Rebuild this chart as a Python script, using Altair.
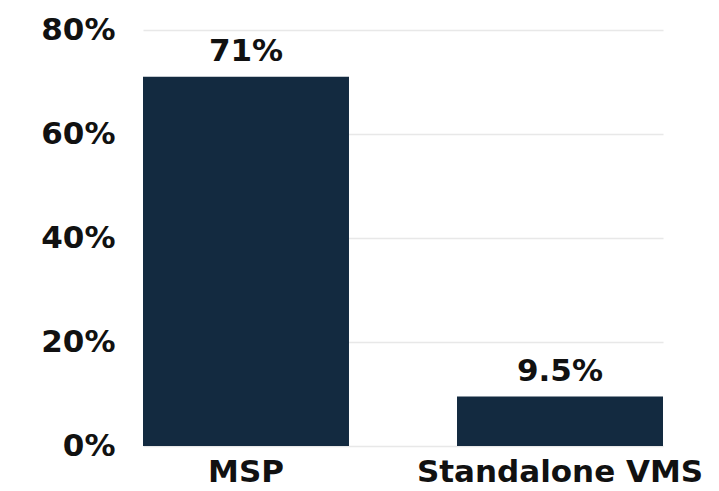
import altair as alt
import pandas as pd

categories = ["MSP", "Standalone VMS"]
values = [71, 9.5]
value_labels = ["71%", "9.5%"]

df = pd.DataFrame({"cat": categories, "val": values, "lab": value_labels})

FONT = "DejaVu Sans"
BAR = "#132a40"
FS = 31

base = alt.Chart(df).encode(
    x=alt.X("cat:N", sort=categories, title=None,
            scale=alt.Scale(paddingInner=0.344, paddingOuter=0),
            axis=alt.Axis(labelAngle=0, domain=False, ticks=False, labelPadding=11,
                          labelFont=FONT, labelFontSize=FS, labelFontWeight="bold",
                          labelColor="#111111", grid=False, labelLimit=0)),
)

bars = base.mark_bar(color=BAR).encode(
    y=alt.Y("val:Q", title=None,
            scale=alt.Scale(domain=[0, 80], nice=False),
            axis=alt.Axis(values=[0, 20, 40, 60, 80], labelExpr="datum.value + '%'",
                          domain=False, ticks=False, labelPadding=28,
                          labelFont=FONT, labelFontSize=FS, labelFontWeight="bold",
                          labelColor="#111111", gridColor="#e8e8e8", gridWidth=1.5))
)

text = base.mark_text(dy=-9, baseline="bottom", font=FONT, fontSize=FS,
                      fontWeight="bold", color="#111111").encode(
    y=alt.Y("val:Q"), text="lab:N")

chart = (bars + text).properties(
    width=520, height=416,
    autosize=alt.AutoSizeParams(type="none"),
    padding={"left": 143, "top": 30, "right": 56, "bottom": 45},
).configure(background="white").configure_view(stroke=None, strokeWidth=0)

chart.save("out.html", embed_options={"renderer": "svg", "actions": False})
